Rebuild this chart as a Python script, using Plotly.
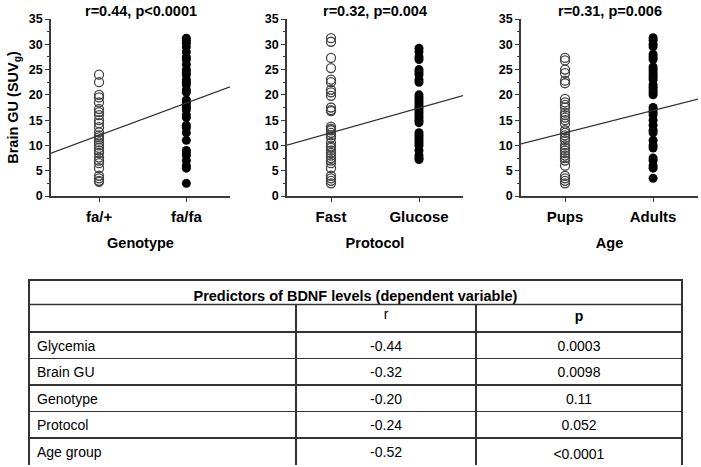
import plotly.graph_objects as go

# ---------------- data ----------------
panel_titles = ["r=0.44, p<0.0001", "r=0.32, p=0.004", "r=0.31, p=0.006"]
x_titles = ["Genotype", "Protocol", "Age"]
group_labels = [["fa/+", "fa/fa"], ["Fast", "Glucose"], ["Pups", "Adults"]]

genotype_fa_plus = [24.0, 22.5, 20.0, 19.5, 18.5, 17.2, 16.6, 16.0, 15.0, 14.4, 13.6, 12.6, 12.0,
                    11.6, 11.2, 10.6, 10.0, 9.5, 9.0, 8.5, 7.6, 7.0, 6.5, 5.5, 4.0, 3.5, 3.0, 2.8]
genotype_fa_fa = [31.2, 30.8, 30.2, 29.5, 28.5, 27.5, 27.0, 26.0, 25.0, 24.5, 24.0, 23.0, 22.5, 22.0,
                  21.0, 20.5, 19.0, 18.5, 18.0, 17.5, 17.0, 16.0, 15.5, 14.0, 13.5, 12.5, 11.0, 9.0,
                  8.5, 8.0, 7.0, 6.0, 5.5, 2.5]
protocol_fast = [31.2, 30.5, 27.3, 25.3, 23.0, 22.5, 21.0, 20.5, 19.8, 17.5, 17.0, 16.8, 13.7, 13.3,
                 13.0, 12.5, 12.0, 11.5, 10.5, 9.8, 9.5, 9.0, 8.5, 8.0, 7.5, 7.0, 6.5, 5.5, 4.0,
                 3.5, 3.0, 2.5]
protocol_glucose = [29.2, 28.5, 27.5, 27.0, 25.0, 24.5, 24.0, 23.0, 22.5, 20.0, 19.5, 19.0, 18.5,
                    18.0, 17.5, 17.0, 16.5, 16.0, 15.5, 15.0, 14.5, 12.5, 12.0, 11.5, 11.0, 10.5,
                    10.0, 9.0, 8.0, 7.5, 7.2]
age_pups = [27.3, 26.8, 25.0, 24.3, 22.8, 22.3, 19.2, 18.5, 18.0, 17.5, 16.5, 16.0, 15.5, 15.0,
            14.3, 13.0, 12.5, 12.0, 11.5, 11.0, 10.0, 9.5, 9.0, 8.5, 8.0, 7.5, 7.0, 6.0, 4.0,
            3.5, 3.0, 2.5]
age_adults = [31.3, 30.8, 30.0, 29.5, 28.0, 27.5, 27.0, 25.5, 25.0, 24.5, 24.0, 23.5, 23.0, 22.0,
              21.5, 21.0, 20.5, 20.0, 17.5, 17.0, 16.5, 16.0, 15.0, 14.0, 13.0, 12.5, 11.0, 10.0,
              9.5, 7.5, 7.0, 6.0, 5.5, 3.5]
# regression line value at each group (group 1, group 2)
fit_genotype = [12.0, 18.4]
fit_protocol = [12.5, 17.4]
fit_age = [12.5, 16.9]

y_ticks = [0, 5, 10, 15, 20, 25, 30, 35]

table_title = "Predictors of BDNF levels (dependent variable)"
table_cols = ["", "r", "p"]
predictors = ["Glycemia", "Brain GU", "Genotype", "Protocol", "Age group"]
r_values = ["-0.44", "-0.32", "-0.20", "-0.24", "-0.52"]
p_values = ["0.0003", "0.0098", "0.11", "0.052", "<0.0001"]

# ---------------- layout helpers ----------------
W, H = 701, 467
def px_x(a, b):
    return [a / W, b / W]
def px_y(top, bottom):
    return [1 - bottom / H, 1 - top / H]
def esc(s):
    return s.replace("<", "&lt;").replace(">", "&gt;")

FONT = "Liberation Sans, Arial, sans-serif"
AX = "#3a3a3a"

panels = [
    (genotype_fa_plus, genotype_fa_fa, fit_genotype, px_x(51, 230), [0.45, 2.5]),
    (protocol_fast, protocol_glucose, fit_protocol, px_x(287, 463), [0.5, 2.5]),
    (age_pups, age_adults, fit_age, px_x(521, 698), [0.5, 2.51]),
]
ydom = px_y(19, 196)

fig = go.Figure()
layout = dict(width=W, height=H, margin=dict(l=0, r=0, t=0, b=0, autoexpand=False),
              paper_bgcolor="white", plot_bgcolor="white", showlegend=False,
              font=dict(family=FONT, color="black"), annotations=[], shapes=[])

for i, (g1, g2, fit, xdom, xr) in enumerate(panels):
    n = i + 1
    xa = "x" if n == 1 else f"x{n}"
    ya = "y" if n == 1 else f"y{n}"
    fig.add_trace(go.Scatter(x=[1] * len(g1), y=g1, mode="markers", xaxis=xa, yaxis=ya,
                             marker=dict(symbol="circle-open", size=9, color="#444",
                                         line=dict(width=1.3, color="#444")), hoverinfo="y"))
    fig.add_trace(go.Scatter(x=[2] * len(g2), y=g2, mode="markers", xaxis=xa, yaxis=ya,
                             marker=dict(symbol="circle", size=9, color="black"), hoverinfo="y"))
    slope = fit[1] - fit[0]
    xl = [xr[0], xr[1]]
    yl = [fit[0] + slope * (x - 1) for x in xl]
    fig.add_trace(go.Scatter(x=xl, y=yl, mode="lines", xaxis=xa, yaxis=ya,
                             line=dict(color="#333", width=1.2), hoverinfo="skip"))
    xkey = "xaxis" if n == 1 else f"xaxis{n}"
    ykey = "yaxis" if n == 1 else f"yaxis{n}"
    layout[xkey] = dict(domain=xdom, range=xr, anchor=ya, tickvals=[1, 2],
                        ticktext=[f"<b>{t}</b>" for t in group_labels[i]],
                        showline=True, linecolor=AX, linewidth=1.5, ticks="outside",
                        ticklen=4, tickcolor=AX, showgrid=False, zeroline=False,
                        tickfont=dict(size=15, family=FONT), ticklabelstandoff=2,
                        automargin=False,
                        title=dict(text=f"<b>{x_titles[i]}</b>", font=dict(size=14.5, family=FONT),
                                   standoff=14), fixedrange=True)
    layout[ykey] = dict(domain=ydom, range=[0, 35], anchor=xa, tickvals=y_ticks,
                        ticktext=[f"<b>{t}</b>" for t in y_ticks],
                        showline=True, linecolor=AX, linewidth=1.5, ticks="outside",
                        ticklen=4, tickcolor=AX, showgrid=False, zeroline=False,
                        tickfont=dict(size=12.5, family=FONT), automargin=False,
                        minor=dict(dtick=2.5, tick0=0, ticklen=2, tickcolor=AX, ticks="outside"),
                        fixedrange=True)
    layout["annotations"].append(dict(text=f"<b>{esc(panel_titles[i])}</b>", xref="paper", yref="paper",
                                      x=(xdom[0] + xdom[1]) / 2, y=1 - 11 / H,
                                      xanchor="center", yanchor="middle", showarrow=False,
                                      font=dict(size=14.5, family=FONT)))

layout["yaxis"]["title"] = dict(text="<b>Brain GU (SUV<sub>g</sub>)</b>",
                                font=dict(size=14.5, family=FONT), standoff=7)

# ---------------- table ----------------
# Tables are drawn with all rows as cells; plotly reserves an empty header strip,
# made invisible and absorbed by extending each domain upwards.
CLEAR = "rgba(0,0,0,0)"
hidden_header = dict(values=[], fill_color=CLEAR, line=dict(color=CLEAR, width=0))
LINE = dict(color="#333", width=1.5)
tx = px_x(29, 682)
# body table first, so the title row (drawn after) sits on top of it
fig.add_trace(go.Table(
    domain=dict(x=tx, y=px_y(304 - 20, 466)),
    columnwidth=[267, 180, 206],
    header=hidden_header,
    cells=dict(values=[[table_cols[0]] + predictors,
                       [table_cols[1]] + r_values,
                       [f"<b>{table_cols[2]}</b>"] + [esc(p) for p in p_values]],
               height=26.5,
               align=["left", "center", "center"], line=LINE, fill_color="white",
               font=dict(size=14, family=FONT, color="black")),
))
fig.add_trace(go.Table(
    domain=dict(x=tx, y=px_y(278 - 14, 305)),
    header=hidden_header,
    cells=dict(values=[[f"<b>{table_title}</b>"]], height=26, align="center",
               line=LINE, fill_color="white", font=dict(size=14.5, family=FONT, color="black")),
))
# rule under the merged title row of the table
layout["shapes"].append(dict(type="line", xref="paper", yref="paper",
                             x0=tx[0], x1=tx[1], y0=1 - 304.5 / H, y1=1 - 304.5 / H,
                             line=dict(color="#333", width=1.5), layer="above"))

fig.update_layout(**layout)
# remove the browser's default 8px body margin so the figure sits at the page origin
fig.write_html("out.html", config={"displayModeBar": False},
               post_script="document.body.style.margin='0';")
